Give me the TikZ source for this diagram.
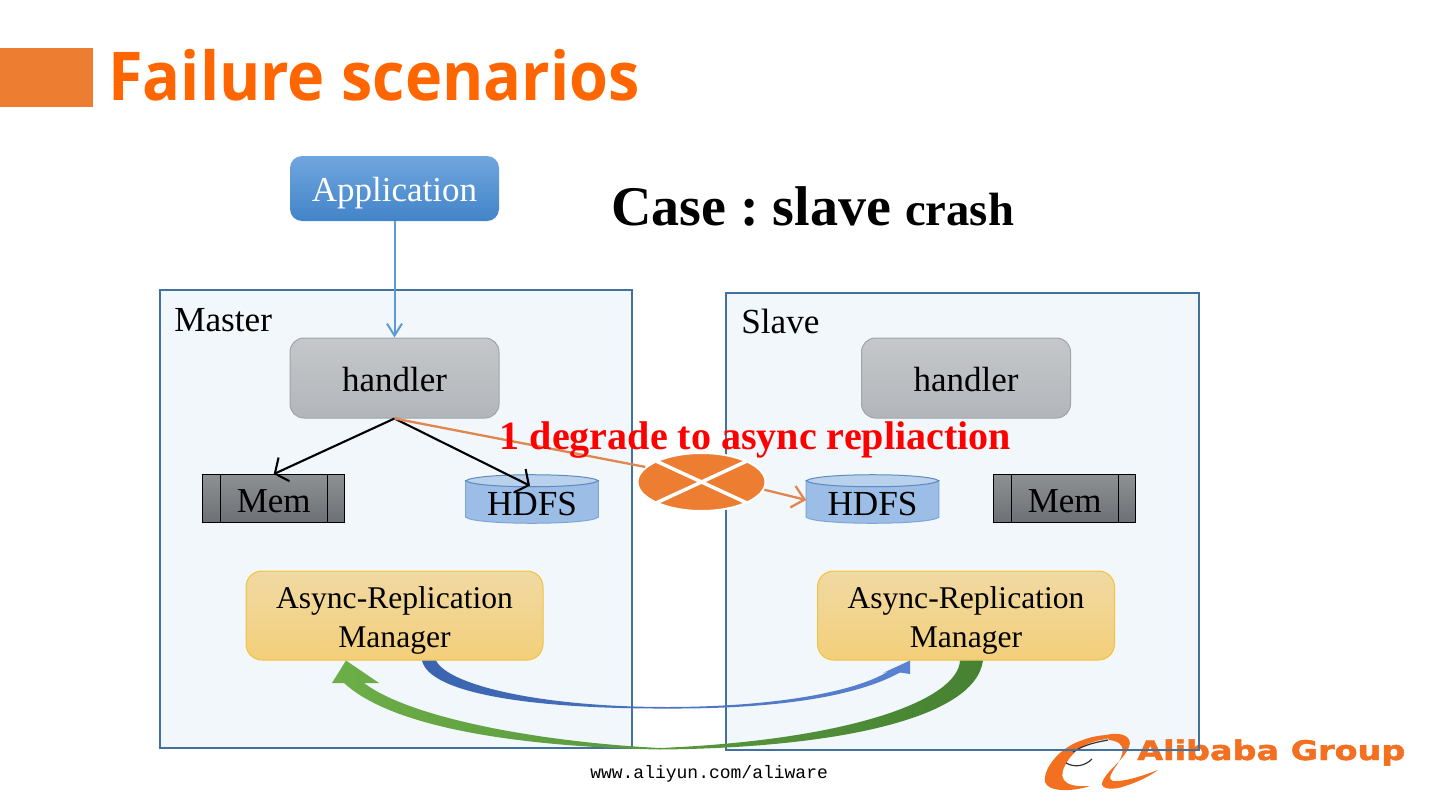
\documentclass[tikz,border=0pt]{standalone}
\usepackage{fontspec}
\usetikzlibrary{arrows.meta,shapes.geometric,calc}
\setmainfont{Liberation Serif}
\setmonofont{Liberation Mono}
\newfontfamily\titlefont{Open Sans}
\newfontfamily\logofont[BoldFeatures={FakeBold=1.5}]{DejaVu Sans}
\def\pw#1{#1*0.75pt}
\newcommand{\fs}[2]{\fontsize{#1pt}{#2pt}\selectfont}
\definecolor{boxline}{HTML}{41719C}
\definecolor{boxfill}{HTML}{F2F7FB}
\definecolor{orangeA}{HTML}{ED7D31}
\definecolor{titleor}{HTML}{FF6600}
\definecolor{logoor}{HTML}{F37021}
\definecolor{apptop}{RGB}{112,166,222}
\definecolor{appbot}{RGB}{66,132,200}
\definecolor{handline}{RGB}{160,165,170}
\definecolor{handtop}{RGB}{197,199,202}
\definecolor{handbot}{RGB}{178,182,186}
\definecolor{memtop}{RGB}{142,145,148}
\definecolor{membot}{RGB}{108,112,116}
\definecolor{mgrline}{RGB}{240,195,60}
\definecolor{mgrtop}{RGB}{240,217,163}
\definecolor{mgrbot}{RGB}{243,207,122}
\definecolor{hdline}{RGB}{125,165,215}
\definecolor{hdfill}{RGB}{156,189,230}
\definecolor{hdtopline}{RGB}{95,140,190}
\definecolor{hdtopfill}{RGB}{186,209,238}
\definecolor{applink}{RGB}{91,155,213}
\definecolor{orlink}{RGB}{224,134,80}
\definecolor{logoink}{RGB}{50,50,50}
\definecolor{blueL}{RGB}{58,100,175}
\definecolor{blueR}{RGB}{90,130,210}
\definecolor{greenL}{RGB}{108,174,72}
\definecolor{greenR}{RGB}{70,130,50}
\tikzset{
  panelline/.style={draw=boxline,line width=\pw{2},outer sep=0pt},
  lbl/.style={inner sep=0pt,font=\fs{26.4}{30}},
  appbox/.style={draw=none,rounded corners=\pw{12},top color=apptop,bottom color=appbot,minimum width=\pw{209},minimum height=\pw{65},inner sep=0pt,text=white,font=\fs{26.25}{30},text height=18.75pt,text depth=0pt},
  handlerbox/.style={draw=handline,line width=\pw{1},rounded corners=\pw{14},top color=handtop,bottom color=handbot,minimum width=\pw{209},minimum height=\pw{80},inner sep=0pt,font=\fs{26.25}{30},text height=19.8pt,text depth=0pt},
  membox/.style={draw=black,line width=\pw{1},top color=memtop,bottom color=membot,minimum width=\pw{142},minimum height=\pw{48},inner sep=0pt,font=\fs{26.25}{30},text height=20.4pt,text depth=0pt},
  mgrbox/.style={draw=mgrline,line width=\pw{1},rounded corners=\pw{16},top color=mgrtop,bottom color=mgrbot,minimum width=\pw{297},minimum height=\pw{89},inner sep=0pt,align=center,font=\fs{23.7}{29.25}},
  hdfsbox/.style={minimum width=\pw{132},minimum height=\pw{48},inner sep=0pt,font=\fs{26.25}{30}},
  hdfsshape/.style={draw=hdline,line width=\pw{1},fill=hdfill},
  hdfstop/.style={draw=hdtopline,line width=\pw{1},fill=hdtopfill},
  blackarrow/.style={draw=black,line width=\pw{2.1},-{Straight Barb[length=\pw{10},width=\pw{26}]}},
  bluearrow/.style={draw=applink,line width=\pw{2},-{Straight Barb[length=\pw{12},width=\pw{15}]}},
  orangearrow/.style={draw=orlink,line width=\pw{2.3},-{Straight Barb[length=\pw{12},width=\pw{22}]}},
  orangeline/.style={draw=orlink,line width=\pw{2.3}},
  crossnode/.style={ellipse,draw=white,line width=\pw{2},fill=orangeA,minimum width=\pw{128},minimum height=\pw{58},inner sep=0pt},
  crossline/.style={draw=white,line width=\pw{3.5}},
  logofill/.style={fill=logoor,draw=none},
  logostroke/.style={draw=logoink,line width=\pw{1.2}}
}
\begin{document}
\begin{tikzpicture}[x=0.75pt,y=-0.75pt]
\useasboundingbox (0,0) rectangle (1440,810);
\fill[white] (0,0) rectangle (1440,810);
% title
\fill[orangeA] (0,48) rectangle (93,107);
\node[anchor=base west,inner sep=0pt,text=titleor] (title) at (108,100) {\scalebox{0.935}[1]{\titlefont\bfseries\fs{50.5}{56}Failure scenarios}};
% panels
\fill[boxfill] (160,290) rectangle (632,748);
\fill[boxfill] (726,293) rectangle (1199,750);
% logo
\node[anchor=base west,inner sep=0pt,text=logoor] (logotext) at (1137,760) {\scalebox{1.235}[1]{\logofont\bfseries\fs{20.3}{24}Alibaba Group}};
\fill[logofill] (1090,786) .. controls (1072,792) and (1048,792) .. (1045,782)
  .. controls (1043,768) and (1060,748) .. (1080,741)
  .. controls (1090,737) and (1100,735) .. (1109,735)
  -- (1107,739) .. controls (1090,741) and (1075,748) .. (1067,762)
  .. controls (1058,776) and (1060,788) .. (1090,786) -- cycle;
\fill[logofill] (1106,735) .. controls (1122,731) and (1133,737) .. (1129,747)
  .. controls (1124,760) and (1105,772) .. (1102,783)
  .. controls (1101,790) and (1115,790) .. (1125,786)
  .. controls (1138,782) and (1150,776) .. (1158,770)
  .. controls (1145,775) and (1125,782) .. (1113,781)
  .. controls (1108,780) and (1110,775) .. (1116,766)
  .. controls (1124,755) and (1128,742) .. (1109,740) -- cycle;
\draw[logostroke] (1073,752) .. controls (1085,744) and (1098,742) .. (1108,740);
\draw[logostroke] (1066,763) .. controls (1075,768) and (1085,766) .. (1092,759);
% panel outlines
\node[panelline,fill=none,anchor=north west,minimum width=\pw{472},minimum height=\pw{458},inner sep=0pt] (master) at (160,290) {};
\node[panelline,fill=none,anchor=north west,minimum width=\pw{473},minimum height=\pw{457},inner sep=0pt] (slave) at (726,293) {};
\node[lbl,anchor=base west] (masterlbl) at (174,331) {Master};
\node[lbl,anchor=base west] (slavelbl) at (741,333) {Slave};
% nodes
\node[appbox] (app) at (394.5,188.5) {Application};
\node[handlerbox] (handL) at (394.5,378) {handler};
\node[handlerbox] (handR) at (966,378) {handler};
\node[membox] (memL) at (273.7,498.6) {Mem};
\node[membox] (memR) at (1064.7,498.6) {Mem};
\draw[black,line width=\pw{1}] ($(memL.north west)+(18,0)$) -- ($(memL.south west)+(18,0)$);
\draw[black,line width=\pw{1}] ($(memL.north east)+(-18,0)$) -- ($(memL.south east)+(-18,0)$);
\draw[black,line width=\pw{1}] ($(memR.north west)+(18,0)$) -- ($(memR.south west)+(18,0)$);
\draw[black,line width=\pw{1}] ($(memR.north east)+(-18,0)$) -- ($(memR.south east)+(-18,0)$);
% cylinders
\foreach \nm/\cx in {hdfsL/532,hdfsR/872.5}{
  \node[hdfsbox] (\nm) at (\cx,499) {};
  \draw[hdfsshape] ($(\nm.north west)+(0,6)$) -- ($(\nm.south west)+(0,-6)$)
    .. controls ($(\nm.south west)+(10,2)$) and ($(\nm.south east)+(-10,2)$) .. ($(\nm.south east)+(0,-6)$)
    -- ($(\nm.north east)+(0,6)$)
    .. controls ($(\nm.north east)+(-10,14)$) and ($(\nm.north west)+(10,14)$) .. cycle;
  \draw[hdfstop] ($(\nm.north west)+(0,6)$) .. controls ($(\nm.north west)+(10,-2)$) and ($(\nm.north east)+(-10,-2)$) .. ($(\nm.north east)+(0,6)$)
    .. controls ($(\nm.north east)+(-10,14)$) and ($(\nm.north west)+(10,14)$) .. cycle;
  \node[lbl] (\nm text) at ($(\nm)+(0,5.5)$) {HDFS};
}
\node[mgrbox] (mgrL) at (394.5,615.5) {\rule{0pt}{24.6pt}Async-Replication\\Manager};
\node[mgrbox] (mgrR) at (966,615.5) {\rule{0pt}{24.6pt}Async-Replication\\Manager};
% cross
\node[crossnode] (cross) at (701.5,482) {};
\draw[crossline] (cross.north east) -- (cross.south west);
\draw[crossline] (cross.north west) -- (cross.south east);
% connectors
\draw[bluearrow] (app.south) -- (handL.north);
\draw[blackarrow] (handL.south) -- (memL.north);
\draw[blackarrow] (handL.south) -- ($(hdfsL.north)+(-2,11)$);
\draw[orangeline] (handL.south) -- (cross.165);
\draw[orangearrow] (cross.-7) -- ($(hdfsR.west)+(0,1)$);
% thick curved arrows
\coordinate (bA) at ($(mgrL.south)+(27.5,0)$);
\coordinate (bB) at ($(mgrL.south)+(41.5,0)$);
\coordinate (bTip) at ($(mgrR.south)+(-56,0)$);
\coordinate (gA) at ($(mgrR.south)+(-6,0)$);
\coordinate (gB) at ($(mgrR.south)+(17,0)$);
\coordinate (gTip) at ($(mgrL.south)+(-48.5,0)$);
\path[left color=blueL,right color=blueR]
  (bB) .. controls (448,685) and (540,707) .. (667,707)
  .. controls (760,707) and (850,695) .. (889,671)
  -- (883,673) -- (bTip) -- (910,674) -- (900,672.5)
  .. controls (850,700) and (760,709) .. (667,708.5)
  .. controls (540,709) and (430,695) .. (bA) -- cycle;
\path[left color=greenL,right color=greenR]
  (gA) .. controls (958,700) and (850,740) .. (660,748)
  .. controls (540,742) and (410,718) .. (364,683)
  -- (379,683) -- (gTip) -- (332,683) -- (344,683)
  .. controls (395,730) and (530,747) .. (660,749.5)
  .. controls (830,748) and (975,720) .. (gB) -- cycle;
% texts
\node[anchor=base west,inner sep=0pt] (case) at (611,225) {\bfseries\fs{42}{48}Case :\hspace{-3.6pt} slave \fs{35}{48}crash};
\node[anchor=base west,inner sep=0pt,text=red] (degrade) at (499.5,449) {\bfseries\fs{30.05}{36}1 degrade to async repliaction};
\node[anchor=base west,inner sep=0pt] (footer) at (590,778) {\ttfamily\fs{13.5}{16}www.aliyun.com/aliware};
\end{tikzpicture}
\end{document}
